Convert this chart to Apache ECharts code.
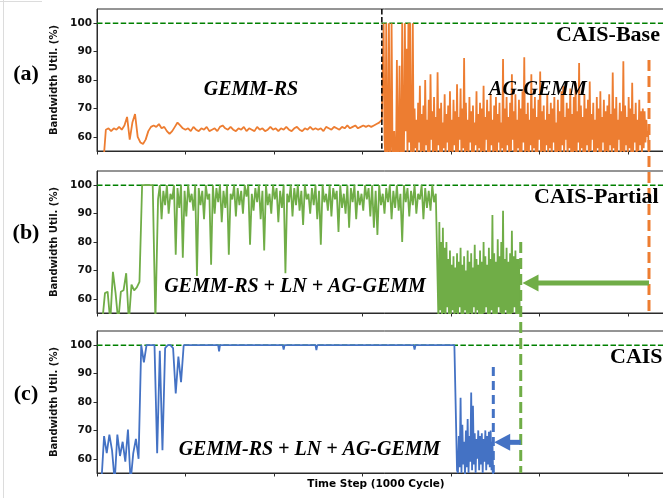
<!DOCTYPE html>
<html><head><meta charset="utf-8">
<script src="https://cdn.jsdelivr.net/npm/echarts@6/dist/echarts.min.js"></script>
<style>html,body{margin:0;padding:0;background:#fff;overflow:hidden}#c{width:680px;height:498px}</style>
</head><body><div id="c"></div>
<script>
// ---------- DATA (time in steps, value in % bandwidth) ----------
const refLevel = 100;
const xMin = 0, xMax = 650, xTickStep = 100;
const yMin = 55, yMax = 105;
const yTicks = [60, 70, 80, 90, 100];

// (a) CAIS-Base, orange
const orangeStart1 = 7, orangeStep1 = 3;
const orangeGemmRs = [50, 62.5, 63, 62, 63, 62.5, 63.5, 62.5, 64, 67, 59, 65, 68, 60, 58, 57.5, 59, 62, 63.5, 64, 63.5, 64.5, 63, 63.5, 62, 61, 62, 63.5, 65, 64, 63,
  62.5, 63, 62, 63.5, 62.5, 62, 63, 62.5, 63.5, 62,
  62.5, 63, 62, 63.5, 64, 63, 62.5, 63.5, 62.5, 62,
  63, 62.5, 63.5, 62, 63, 62.5, 62, 63.5, 62.5, 63,
  62, 62.5, 63.5, 62.5, 63, 62, 63, 62.5, 63.5, 62.5,
  62, 63, 63.5, 62.5, 62, 63, 62.5, 63.5, 62.5, 63,
  62.5, 63, 62, 63.5, 63, 62.5, 63.5, 63, 62.5, 63.5,
  63, 64, 63, 63.5, 64, 63, 63.5, 64, 63.5, 64,
  63.5, 64, 64.5, 65, 66];
// AG-GEMM onset burst, one value per step from t=324
const orangeBurstStart = 324;
const orangeBurst = [100, 60, 52, 100, 52, 56, 100, 52, 50, 100, 58, 50, 62, 52, 50, 87, 55, 52, 85, 56, 50, 100, 52, 55, 100, 62, 91, 52, 100, 58, 100, 52, 56, 100];
// AG-GEMM steady phase from t=358: alternating troughs / peaks, one step apart
const orangeAgStart = 358;
const orangeAgLows = [52,56,50,58,53,55,51,57,54,52, 59,50,55,53,57,51,54,56,52,58, 50,55,53,57,51,54,59,52,56,50,
  55,53,58,51,54,57,52,56,50,55, 53,59,51,54,57,52,55,50,58,53, 56,51,54,57,52,55,59,50,53,56,
  51,54,58,52,55,50,57,53,56,51, 54,59,52,55,50,57,53,56,51,58, 54,52,55,50,57,53,59,51,56,54,
  52,55,50,58,53,56,51,54,57,52, 55,59,50,53,56,51,54,58,52,55, 50,57,53,56,51,54,59,52,55,50,
  57,53,56,52,54,58,51,55,57,53, 56,58,60,52];
const orangeAgHighs = [70,66,72,78,68,71,80,66,73,82, 69,74,67,82.7,70,72,65,75,68,71, 76,66,73,69,78.5,67,77,70,87.7,72,
  66,74,69,71,65,76,68,72,70,78, 67,73,69,75,66,71,74,68,72,65, 87.4,70,74,67,72,82,69,75,66,73,
  70,76,88,68,72,66,82,70,74,67, 73,83,69,71,66,75,68,72,70,74, 65,73,69,76,78,67,72,70,77,68,
  74,79,69,86,71,67,75,70,73,79.5, 68,72,66,74,70,76,67,73,69,71, 75,68,82.6,70,74,66,72,69,86.6,71,
  67,74,70,79,68,72,66,73,69,70, 69,66,62];

// (b) CAIS-Partial, green
const greenStart1 = 6, greenStep1 = 3;
const greenHead = [52, 62, 62.5, 52, 69.5, 62, 52, 62.5, 63, 69, 52, 65, 63, 64, 66, 100, 100, 100, 100, 100, 52, 95];
// fused phase from t=71, every 2 steps: peaks and dips alternate
const greenMidStart = 71, greenMidStep = 2;
const greenMidHighs = [100,98,100,97,100,99,100,98,100,97, 100,99,98,100,97,100,99,100,98,100, 97,100,99,98,100,100,97,99,100,98,
  100,97,100,99,98,100,97,100,99,100, 98,100,97,99,100,98,100,97,100,99, 98,100,97,100,99,100,98,97,100,99,
  100,98,100,97,99,100,98,100,97,100, 99,98,100,97,100,99,98,100,97];
const greenMidLows = [88,93,90,95,75.5,92,74.5,89,94,91, 68,93,88,95,72,90,94,87,92,75.5, 95,89,93,90,96,79,91,94,88,77,
  93,90,95,87,92,69,94,89,93,91, 86,95,90,93,88,79,94,91,89,95, 83.5,92,90,85,94,88,93,91,95,89,
  85,82.5,93,90,94,88,92,91,80,94, 89,93,90,95,88,92,91,94];
const greenAgStart = 386;
const greenAgLows = [52,56,51,55,53,57,50,54,56,52, 55,51,57,53,50,56,54,52,55,51, 57,53,56,50,54,52,55,57,51,53, 56,50,54,52,57,55,51,53,56,50, 54,52,55,57,51,53, 52];
const greenAgHighs = [87,80,85,78,80,74,77,72,75,71, 76,73,78,72,75,70,77,73,76,71, 79,74,72,77,73,80,75,72,78,74, 89.5,76,73,81,75,80,91,74,78,73, 76,84,75,77,74,74];

// (c) CAIS, blue
const blueStart1 = 5, blueStep1 = 3;
const blueHead = [52, 68, 62, 68.5, 63, 52, 68.5, 61, 66, 59, 70.3, 52, 62, 67, 60, 100, 94, 100, 100, 100, 100, 62, 98, 63, 99, 100, 100, 99, 83, 96, 87, 100];
const blueFlatT = [100, 137, 138, 139, 210, 211, 212, 247, 248, 249, 358, 359, 360, 404];
const blueFlatV = [100, 100, 97.8, 100, 100, 98.5, 100, 100, 98.3, 100, 100, 98.5, 100, 100];
const blueAgStart = 406;
const blueAg = [100, 56, 55, 68, 57, 81.5, 55, 72, 58, 66, 54, 70, 57, 74, 55, 68, 59, 83.3, 56, 78.7, 58, 69, 55, 67, 60, 70, 56, 68, 58, 69, 55, 67, 59, 70, 56, 68, 58, 69.5, 57, 70, 56, 66, 52];

// annotation times / levels
const tPhaseSplit = 322;      // black dashed in (a)
const tEndBase = 624;         // orange dashed
const tEndPartial = 479;      // green dashed
const tEndCais = 448;         // blue dashed
const vOrangeTop = 87, vGreenTop = 80, vBlueTop = 92.3;
const arrowLevelB = 65.6, arrowTipB = 481;
const arrowLevelC = 65.8, arrowTipC = 449;

// ---------- BUILD ----------
const seg = (s, st, vals) => vals.map((v, i) => [s + i * st, v]);
const pairs = (ts, vs) => ts.map((t, i) => [t, vs[i]]);
const interleave = (a, b) => { const r = []; a.forEach((x, i) => { r.push(x); if (i < b.length) r.push(b[i]); }); return r; };
const orangeData = seg(orangeStart1, orangeStep1, orangeGemmRs)
  .concat(seg(orangeBurstStart, 1, orangeBurst), seg(orangeAgStart, 1, interleave(orangeAgLows, orangeAgHighs)));
const greenData = seg(greenStart1, greenStep1, greenHead)
  .concat(seg(greenMidStart, greenMidStep, interleave(greenMidHighs, greenMidLows)), seg(greenAgStart, 1, interleave(greenAgLows, greenAgHighs)));
const blueData = seg(blueStart1, blueStep1, blueHead).concat(pairs(blueFlatT, blueFlatV), seg(blueAgStart, 1, blueAg));

const COL = {orange: '#ED7D31', green: '#70AD47', blue: '#4472C4', ref: '#008000'};
const tops = [9, 171, 331];
const chart = echarts.init(document.getElementById('c'), null, {renderer: 'canvas'});
const axisCol = '#2b2b2b';
const grids = tops.map(t => ({left: 97, top: t, width: 575, height: 142, show: true, borderColor: axisCol, borderWidth: 1, backgroundColor: 'transparent'}));
const xAxes = tops.map((t, k) => ({gridIndex: k, type: 'value', min: xMin, max: xMax, interval: xTickStep,
  splitLine: {show: false}, axisLine: {show: true, onZero: false, lineStyle: {color: axisCol, width: 1}},
  axisTick: {show: true, length: 3.5, lineStyle: {color: axisCol}}, axisLabel: {show: false}}));
const yAxes = tops.map((t, k) => ({gridIndex: k, type: 'value', min: yMin, max: yMax,
  splitLine: {show: false}, axisLine: {show: true, lineStyle: {color: axisCol, width: 1}},
  axisTick: {show: true, length: 3.5, customValues: yTicks, lineStyle: {color: axisCol}},
  axisLabel: {customValues: yTicks, fontSize: 10.5, fontWeight: 'bold', color: '#111', fontFamily: 'DejaVu Sans', margin: 5},
  name: 'Bandwidth Util. (%)', nameLocation: 'middle', nameGap: 38,
  nameTextStyle: {fontSize: 10, fontWeight: 'bold', color: '#111', fontFamily: 'DejaVu Sans'}}));
const dataSets = [[orangeData, COL.orange], [greenData, COL.green], [blueData, COL.blue]];
const series = [];
dataSets.forEach(([d, c], k) => {
  series.push({type: 'line', xAxisIndex: k, yAxisIndex: k, data: [[xMin, refLevel], [xMax, refLevel]], symbol: 'none', silent: true,
    lineStyle: {color: COL.ref, width: 1.5, type: [5.5, 2.4]}, z: 2, animation: false});
  series.push({type: 'line', xAxisIndex: k, yAxisIndex: k, data: d, symbol: 'none', showSymbol: false, clip: true,
    lineStyle: {color: c, width: 1.8}, z: 3, animation: false});
});
chart.setOption({animation: false, grid: grids, xAxis: xAxes, yAxis: yAxes, series});

const P = (g, t, v) => chart.convertToPixel({gridIndex: g}, [t, v]);
const vline = (g1, g2, t, v1, v2, color, w, dash) => {
  const a = P(g1, t, v1), b = P(g2, t, v2);
  return {type: 'line', shape: {x1: a[0], y1: a[1], x2: b[0], y2: b[1]}, style: {stroke: color, lineWidth: w, lineDash: dash}, z: 10};
};
const arrow = (g, tFrom, tTip, v, color) => {
  const a = P(g, tFrom, v), tip = P(g, tTip, v);
  const hl = 16, hw = 8.5;
  return [
    {type: 'line', shape: {x1: a[0], y1: a[1], x2: tip[0] + hl - 1, y2: tip[1]}, style: {stroke: color, lineWidth: 5}, z: 11},
    {type: 'polygon', shape: {points: [[tip[0], tip[1]], [tip[0] + hl, tip[1] - hw], [tip[0] + hl, tip[1] + hw]]}, style: {fill: color}, z: 11}
  ];
};
const txt = (text, x, y, font, align) => ({type: 'text', x, y, z: 12,
  style: {text, fill: '#000', align: align || 'center', verticalAlign: 'middle', font}});
const serifBI = 'italic bold 20px "Liberation Serif"';
const serifB = 'bold 22px "Liberation Serif"';
const graphic = [
  {type: 'line', shape: {x1: 3.5, y1: 0, x2: 3.5, y2: 498}, style: {stroke: '#dcdcdc', lineWidth: 1}},
  {type: 'line', shape: {x1: 0, y1: 1.5, x2: 42, y2: 1.5}, style: {stroke: '#dcdcdc', lineWidth: 1}},
  vline(0, 0, tPhaseSplit, yMax, yMin, '#000', 1.5, [5.5, 2.4]),
  vline(0, 1, tEndBase, vOrangeTop, yMin, COL.orange, 3, [11, 5]),
  vline(1, 2, tEndPartial, vGreenTop, yMin, COL.green, 3, [11, 5]),
  vline(2, 2, tEndCais, vBlueTop, yMin, COL.blue, 3, [9, 5]),
  ...arrow(1, tEndBase, arrowTipB, arrowLevelB, COL.green),
  ...arrow(2, tEndPartial, arrowTipC, arrowLevelC, COL.blue),
  txt('(a)', 26, 74, serifB), txt('(b)', 26, 233, serifB), txt('(c)', 26, 394, serifB),
  txt('GEMM-RS', 251, 90, serifBI), txt('AG-GEMM', 538, 90, serifBI),
  txt('CAIS-Base', 556, 35, serifB, 'left'), txt('CAIS-Partial', 534, 197, serifB, 'left'), txt('CAIS', 610, 357.5, serifB, 'left'),
  txt('GEMM-RS + LN + AG-GEMM', 295, 287, serifBI), txt('GEMM-RS + LN + AG-GEMM', 309.5, 450, serifBI),
  txt('Time Step (1000 Cycle)', 376, 484.5, 'bold 10.5px "DejaVu Sans"')
];
chart.setOption({graphic});
</script></body></html>
